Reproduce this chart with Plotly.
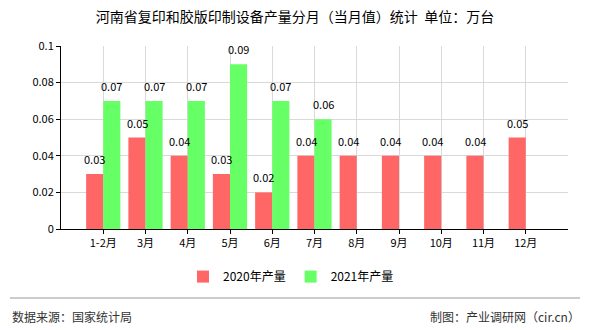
import plotly.graph_objects as go

categories = ["1-2月", "3月", "4月", "5月", "6月", "7月", "8月", "9月", "10月", "11月", "12月"]
values_2020 = [0.03, 0.05, 0.04, 0.03, 0.02, 0.04, 0.04, 0.04, 0.04, 0.04, 0.05]
values_2021 = [0.07, 0.07, 0.07, 0.09, 0.07, 0.06, None, None, None, None, None]
y_ticks = [0, 0.02, 0.04, 0.06, 0.08, 0.1]
y_tick_labels = ["0", "0.02", "0.04", "0.06", "0.08", "0.1"]

title_text = "河南省复印和胶版印制设备产量分月（当月值）统计  单位：万台"
source_text = "数据来源：国家统计局"
credit_text = "制图：产业调研网（cir.cn）"

FONT = "Noto Sans CJK SC"

fig = go.Figure()
fig.add_trace(go.Bar(
    x=categories, y=values_2020, name="2020年产量",
    marker=dict(color="#FF6666", line=dict(width=0)),
))
fig.add_trace(go.Bar(
    x=categories, y=values_2021, name="2021年产量",
    marker=dict(color="#66FF66", line=dict(width=0)),
))

# value labels above each bar (placed via the axes' own scales)
for vals, shift in ((values_2020, -8.5), (values_2021, 8.5)):
    for c, v in zip(categories, vals):
        if v is None:
            continue
        fig.add_annotation(x=c, y=v, xref="x", yref="y", text=f"{v:g}",
                           showarrow=False, xshift=shift, yshift=5,
                           xanchor="center", yanchor="bottom",
                           font=dict(size=11, color="#000000", family=FONT))

fig.update_layout(
    width=590, height=330,
    margin=dict(l=61, r=22, t=46, b=101),
    paper_bgcolor="white", plot_bgcolor="white",
    barmode="group", bargap=0.19, bargroupgap=0,
    font=dict(family=FONT, size=11, color="#000000"),
    title=dict(text=title_text, x=0.5, xanchor="center", y=0.948, yanchor="middle",
               font=dict(size=14, color="#000000", family=FONT)),
    showlegend=True,
    legend=dict(orientation="h", x=(183-61)/507, xanchor="left", y=-0.26, yanchor="middle",
                font=dict(size=12, color="#000000", family=FONT),
                itemwidth=30, traceorder="normal"),
    xaxis=dict(
        type="category", range=[-1, 11],
        showline=True, linecolor="#000000", linewidth=1,
        ticks="outside", ticklen=4, tickcolor="#000000",
        showgrid=True, gridcolor="#d9d9d9", gridwidth=1,
        tickfont=dict(size=11, color="#000000", family=FONT),
        fixedrange=True,
    ),
    yaxis=dict(
        range=[0, 0.1], tickvals=y_ticks, ticktext=y_tick_labels,
        showline=True, linecolor="#000000", linewidth=1,
        ticks="outside", ticklen=4, tickcolor="#000000",
        showgrid=True, gridcolor="#d9d9d9", gridwidth=1,
        zeroline=False,
        tickfont=dict(size=11, color="#000000", family=FONT),
        fixedrange=True,
    ),
)

fig.add_shape(type="line", xref="paper", yref="paper",
              x0=-51/507, x1=(580-61)/507, y0=-(298-229)/183, y1=-(298-229)/183,
              line=dict(color="#999999", width=1))
fig.add_annotation(text=source_text, xref="paper", yref="paper",
                   x=-51/507, xanchor="left", y=-(316-229)/183, yanchor="middle",
                   showarrow=False, font=dict(size=12, color="#333333", family=FONT))
fig.add_annotation(text=credit_text, xref="paper", yref="paper",
                   x=(582-61)/507, xanchor="right", y=-(316-229)/183, yanchor="middle",
                   showarrow=False, font=dict(size=12, color="#333333", family=FONT))

fig.write_html("out.html", config={"displayModeBar": False})
